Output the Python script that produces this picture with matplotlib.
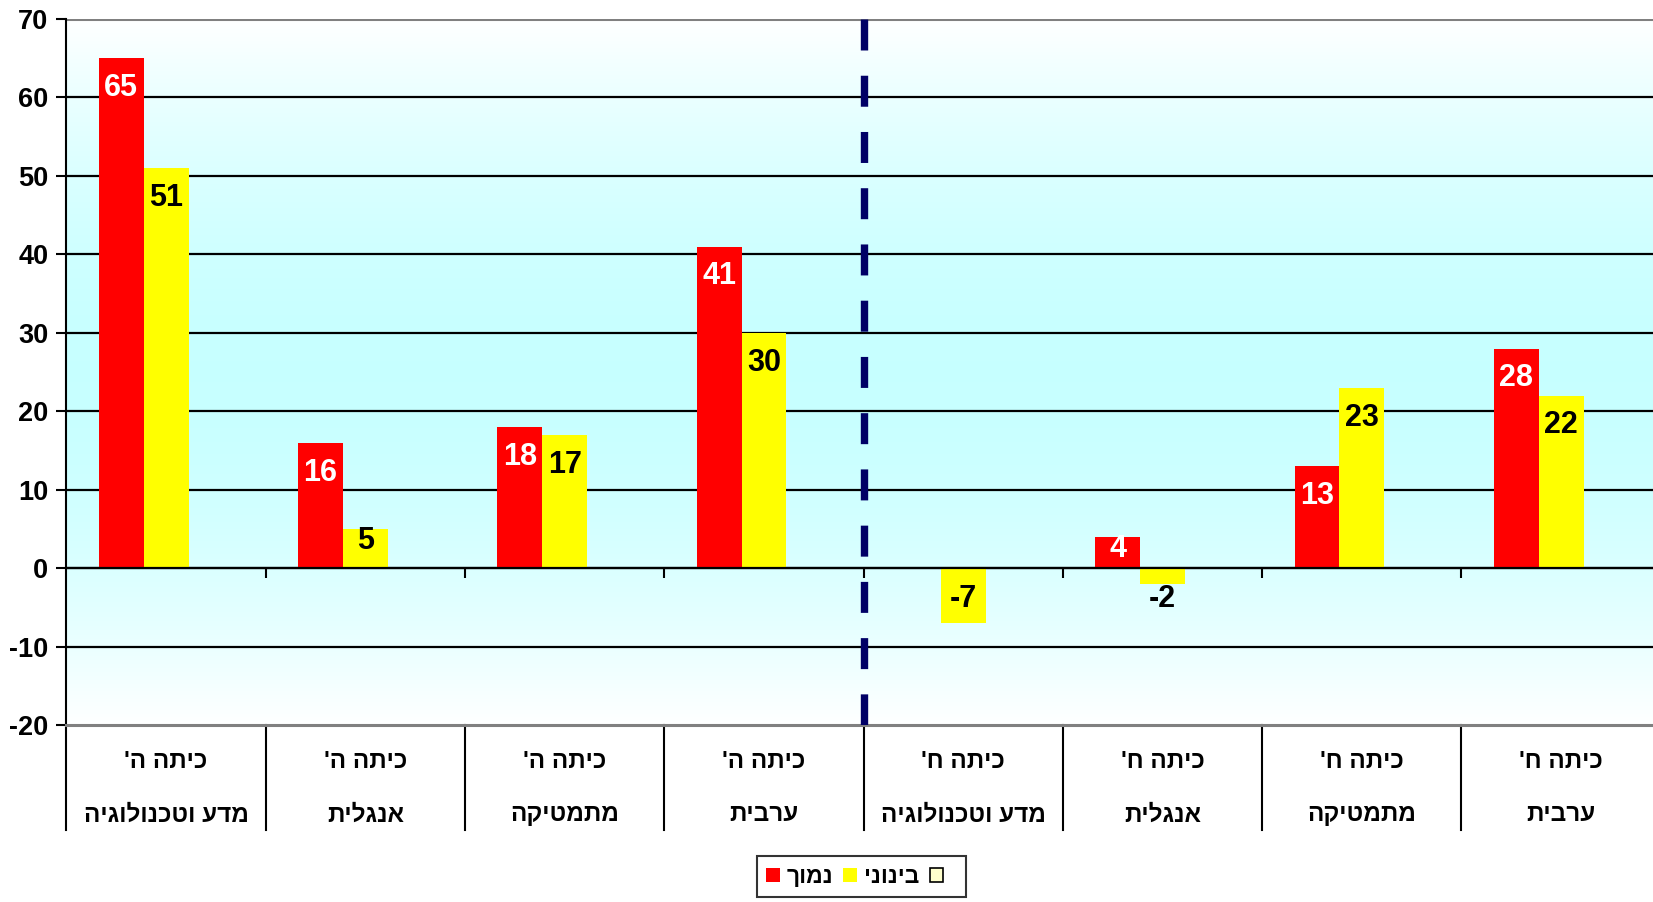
import numpy as np
import matplotlib
matplotlib.use("Agg")
import matplotlib.pyplot as plt
from matplotlib.patches import Patch
from matplotlib.transforms import blended_transform_factory

plt.rcParams['font.family'] = ['Liberation Sans', 'DejaVu Sans']
plt.rcParams['font.weight'] = 'bold'

# ------------------------------------------------------------
# data
grade = ["כיתה ה'", "כיתה ה'", "כיתה ה'", "כיתה ה'",
         "כיתה ח'", "כיתה ח'", "כיתה ח'", "כיתה ח'"]
subject = ["מדע וטכנולוגיה", "אנגלית", "מתמטיקה", "ערבית",
           "מדע וטכנולוגיה", "אנגלית", "מתמטיקה", "ערבית"]
low = [65, 16, 18, 41, np.nan, 4, 13, 28]        # נמוך
mid = [51, 5, 17, 30, -7, -2, 23, 22]            # בינוני
series_names = ["נמוך", "בינוני", " "]
yticks = [-20, -10, 0, 10, 20, 30, 40, 50, 60, 70]
split_after = 4   # dashed line between grade 5 and grade 8


def rtl(s):
    # matplotlib has no bidi support: reverse Hebrew for display
    return s[::-1]


# ------------------------------------------------------------
fig = plt.figure(figsize=(16.53, 9.02), dpi=100)
ax = fig.add_axes([0.0402, 0.196, 0.9645, 0.783])

n = len(subject)
x = np.arange(n)
w = 0.225
ymin, ymax = yticks[0], yticks[-1]

# background gradient: white top/bottom, cyan in the middle
yy = np.linspace(ymax, ymin, 400)
t = np.clip(np.abs(yy - 25) / 45.0, 0, 1) ** 1.8
white = np.array([1.0, 1.0, 1.0])
cyan = np.array([0.78, 1.0, 1.0])
grad = (cyan[None, :] * (1 - t[:, None]) + white[None, :] * t[:, None])[:, None, :]
ax.imshow(grad, extent=[-0.5, n - 0.5, ymin, ymax], aspect='auto', zorder=0)

# grid lines
for v in yticks[1:-1]:
    ax.axhline(v, color='black', lw=1.6, zorder=1)
ax.axhline(ymax, color='#808080', lw=2.2, zorder=1)
ax.axhline(0, color='black', lw=1.6, zorder=3)

# bars
ax.bar(x - w, low, w, color='#ff0000', zorder=2)
ax.bar(x, mid, w, color='#ffff00', zorder=2)


# value labels
def put_label(xp, v, color):
    if np.isnan(v):
        return
    if v < 0:
        base, off = 0, -22
    elif v >= 8:
        base, off = v, -21.5
    else:
        base, off = v, -8.5
    ax.annotate(f"{v:g}", (xp, base), xytext=(0, off), textcoords='offset points',
                ha='center', va='center', fontsize=22, color=color, zorder=5)


for i in range(n):
    put_label(x[i] - w, low[i], 'white')
    put_label(x[i], mid[i], 'black')

# small ticks on the zero line at category boundaries
bounds = np.arange(n - 1) + 0.5
ax.plot(bounds, np.zeros_like(bounds), linestyle='none', marker=3, ms=7,
        mew=1.5, color='black', zorder=3)

# dashed separator
ax.plot([split_after - 0.5, split_after - 0.5], [ymax, ymin], color='#000066',
        lw=5.3, dashes=(4.21, 3.43), solid_capstyle='butt', dash_capstyle='butt',
        zorder=4)

ax.set_xlim(-0.5, n - 0.5)
ax.set_ylim(ymin, ymax)
ax.set_yticks(yticks)
ax.set_yticklabels([str(v) for v in yticks], fontsize=19.5, fontweight='bold')
ax.tick_params(axis='y', direction='out', length=7, width=1.5, pad=6)
ax.set_xticks([])
for s in ['top', 'right']:
    ax.spines[s].set_visible(False)
ax.spines['left'].set_linewidth(1.5)
ax.spines['bottom'].set_color('#808080')
ax.spines['bottom'].set_linewidth(2.2)

# category table under the plot
tr = blended_transform_factory(ax.transData, ax.transAxes)
for i in range(n):
    ax.text(x[i], -0.052, rtl(grade[i]), transform=tr, ha='center', va='center',
            fontsize=17.5, clip_on=False)
    ax.text(x[i], -0.127, rtl(subject[i]), transform=tr, ha='center', va='center',
            fontsize=17.5, clip_on=False)
for b in np.arange(n) - 0.5:
    ax.plot([b, b], [0, -0.149], transform=tr, color='black', lw=1.5,
            clip_on=False)

# legend
handles = [Patch(facecolor='#ff0000', edgecolor='none'),
           Patch(facecolor='#ffff00', edgecolor='none'),
           Patch(facecolor='#ffffcc', edgecolor='black', lw=1.2)]
leg = fig.legend(handles, [rtl(s) for s in series_names], loc='center',
                 bbox_to_anchor=(0.521, 0.028),
                 ncol=3, fontsize=16.5, frameon=True, fancybox=False,
                 handlelength=0.6, handleheight=0.6, handletextpad=0.3,
                 columnspacing=0.45, borderpad=0.4, borderaxespad=0)
leg.get_frame().set_edgecolor('black')
leg.get_frame().set_linewidth(1.5)

fig.savefig('out.png', dpi=100)
